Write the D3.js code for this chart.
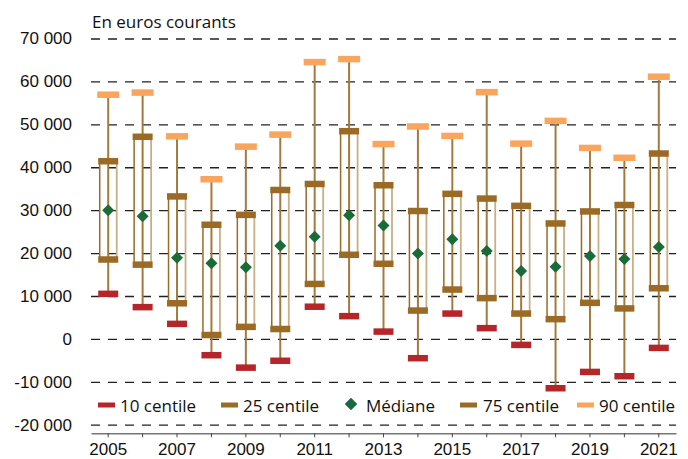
<!DOCTYPE html>
<html>
<head>
<meta charset="utf-8">
<script src="https://cdn.jsdelivr.net/npm/d3@7"></script>
<style>
  body { margin: 0; background: #fff; }
  svg { display: block; font-family: "Open Sans", sans-serif; }
</style>
</head>
<body>
<div id="chart"></div>
<script>
// values (euros courants)
const years = [2005, 2006, 2007, 2008, 2009, 2010, 2011, 2012, 2013, 2014, 2015, 2016, 2017, 2018, 2019, 2020, 2021];
const p10 = [10500, 7400, 3500, -3800, -6700, -5100, 7500, 5300, 1700, -4500, 5900, 2500, -1400, -11500, -7700, -8700, -2100];
const p25 = [18500, 17300, 8300, 900, 2800, 2300, 12800, 19600, 17500, 6600, 11500, 9500, 5900, 4600, 8400, 7100, 11800];
const median = [30000, 28600, 18900, 17600, 16700, 21700, 23800, 28800, 26400, 19900, 23200, 20500, 15800, 16800, 19300, 18600, 21400];
const p75 = [41400, 47100, 33200, 26600, 28900, 34700, 36100, 48400, 35800, 29800, 33800, 32700, 31000, 26900, 29700, 31200, 43200];
const p90 = [56900, 57400, 47200, 37200, 44800, 47600, 64500, 65200, 45400, 49500, 47300, 57500, 45500, 50800, 44500, 42200, 61100];
const yTicks = [-20000, -10000, 0, 10000, 20000, 30000, 40000, 50000, 60000, 70000];
const legendLabels = ["10 centile", "25 centile", "Médiane", "75 centile", "90 centile"];

const data = years.map((y, i) => ({
  year: y, p10: p10[i], p25: p25[i], med: median[i], p75: p75[i], p90: p90[i]
}));

const width = 688;
const height = 459;
const plot = {left: 91, right: 676, top: 38.5, bottom: 433.3};

const red = "#b5262b";
const brown = "#9b6a24";
const tan = "#c9ae86";
const orange = "#f9a55d";
const green = "#1a6b38";

const svg = d3.select("#chart")
  .append("svg")
    .attr("width", width)
    .attr("height", height);

const xScale = d3.scaleBand()
  .domain(years)
  .range([plot.left, plot.right]);

const yScale = d3.scaleLinear()
  .domain([-22000, 70000])
  .range([plot.bottom, plot.top]);

const locale = d3.formatLocale({decimal: ",", thousands: " ", grouping: [3], currency: ["", " €"], minus: "-"});
const fmt = locale.format(",");

// gridlines + y labels
const leftAxis = d3.axisLeft(yScale)
  .tickValues(yTicks)
  .tickFormat(fmt)
  .tickSize(-(plot.right - plot.left))
  .tickPadding(19);
const gy = svg.append("g")
    .attr("transform", `translate(${plot.left}, 0)`)
    .call(leftAxis);
gy.select(".domain").remove();
gy.selectAll(".tick line")
  .attr("stroke", "#222")
  .attr("stroke-width", 1.3)
  .attr("stroke-dasharray", "9 8");
gy.selectAll(".tick text")
  .attr("fill", "#111")
  .style("font-size", "17px");

// x axis
const bottomAxis = d3.axisBottom(xScale)
  .tickSize(4)
  .tickSizeOuter(0)
  .tickPadding(6)
  .tickFormat(d => d % 2 === 1 ? d : "");
const gx = svg.append("g")
    .attr("transform", `translate(0, ${plot.bottom})`)
    .call(bottomAxis);
gx.select(".domain").attr("stroke", "#777").attr("stroke-width", 1.5);
gx.selectAll(".tick line").attr("stroke", "#444");
gx.selectAll(".tick text")
  .attr("fill", "#111")
  .style("font-size", "17px");

svg.append("text")
  .text("En euros courants")
  .attr("x", 92)
  .attr("y", 28)
  .attr("fill", "#111")
  .style("font-size", "17px");

const cx = d => xScale(d.year) + xScale.bandwidth() / 2;
const boxHalf = 8.5;

const groups = svg.append("g")
  .selectAll("g")
  .data(data)
  .join("g");

// whisker 10 -> 90
groups.append("line")
  .attr("x1", cx).attr("x2", cx)
  .attr("y1", d => yScale(d.p10))
  .attr("y2", d => yScale(d.p90))
  .attr("stroke", "#a47a3c")
  .attr("stroke-width", 2);

// box edges 25 -> 75
groups.append("line")
  .attr("x1", d => cx(d) - boxHalf).attr("x2", d => cx(d) - boxHalf)
  .attr("y1", d => yScale(d.p25))
  .attr("y2", d => yScale(d.p75))
  .attr("stroke", brown)
  .attr("stroke-width", 1.5);
groups.append("line")
  .attr("x1", d => cx(d) + boxHalf).attr("x2", d => cx(d) + boxHalf)
  .attr("y1", d => yScale(d.p25))
  .attr("y2", d => yScale(d.p75))
  .attr("stroke", tan)
  .attr("stroke-width", 1.8);

const bar = (key, color, w, h) => {
  groups.append("rect")
    .attr("x", d => cx(d) - w / 2)
    .attr("y", d => yScale(d[key]) - h / 2)
    .attr("width", w)
    .attr("height", h)
    .attr("fill", color);
};
bar("p10", red, 20, 6.5);
bar("p25", brown, 20, 6.5);
bar("p75", brown, 20, 6.5);
bar("p90", orange, 22, 6.5);

const diamond = d3.symbol().type(d3.symbolSquare).size(72);
groups.append("path")
  .attr("d", diamond)
  .attr("transform", d => `translate(${cx(d)}, ${yScale(d.med)}) rotate(45)`)
  .attr("fill", green);

// legend
const legendY = 405;
const legendItems = [
  {label: legendLabels[0], color: red, x: 98, tx: 120},
  {label: legendLabels[1], color: brown, x: 221, tx: 243},
  {label: legendLabels[2], color: green, x: 345, tx: 366, diamond: true},
  {label: legendLabels[3], color: brown, x: 460, tx: 483},
  {label: legendLabels[4], color: orange, x: 577, tx: 599}
];
const legend = svg.append("g");
legendItems.forEach(it => {
  if (it.diamond) {
    legend.append("path")
      .attr("d", diamond)
      .attr("transform", `translate(${it.x + 6}, ${legendY - 1}) rotate(45)`)
      .attr("fill", it.color)
      .attr("stroke", "#2b6cb0")
      .attr("stroke-width", 0.6);
  } else {
    legend.append("rect")
      .attr("x", it.x)
      .attr("y", legendY - 2.5)
      .attr("width", 17)
      .attr("height", 5)
      .attr("fill", it.color);
  }
  legend.append("text")
    .text(it.label)
    .attr("x", it.tx)
    .attr("y", legendY)
    .attr("dominant-baseline", "central")
    .attr("fill", "#111")
    .style("font-size", "17px");
});
</script>
</body>
</html>
